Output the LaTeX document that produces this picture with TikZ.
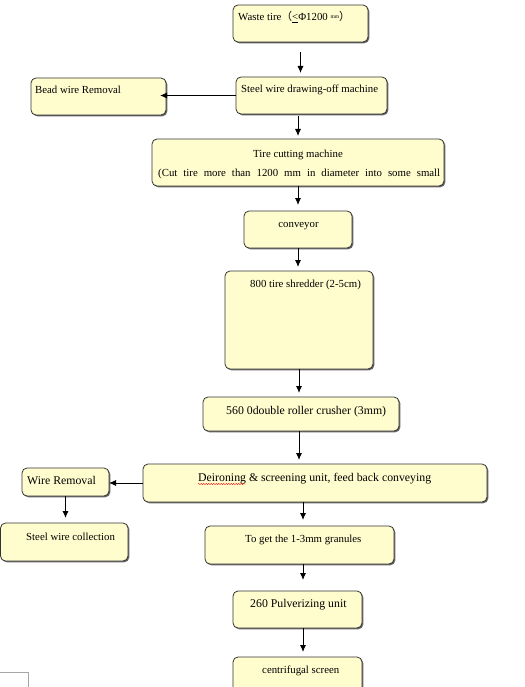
\documentclass[tikz,border=0pt]{standalone}
\usepackage{fontspec}
\setmainfont{Liberation Serif}
\newfontfamily\cjk{Noto Sans CJK SC}
\usetikzlibrary{calc,shadows,arrows.meta,decorations.pathmorphing}
\definecolor{boxfill}{RGB}{255,252,206}

\begin{document}
\begin{tikzpicture}[x=1pt, y=-1pt, >={Latex[length=7pt,width=6pt]}]
	% Styles
	\tikzstyle{stagebox}=[draw=black!80, fill=boxfill, rectangle, rounded corners=5pt, line width=0.8pt, inner sep=0pt, outer sep=0pt, drop shadow={shadow xshift=1.3pt, shadow yshift=-1.3pt, fill=black!60, opacity=1}]
	\tikzstyle{arrow}=[->, line width=0.9pt]
	\tikzstyle{lbl}=[font={\fontsize{10.8}{13}\selectfont}, inner sep=0pt, anchor=base west]
	\tikzstyle{biglbl}=[lbl, font={\fontsize{11.8}{14}\selectfont}]

	\useasboundingbox (0,0) rectangle (524,687);
	\clip (0,0) rectangle (524,687);

	% Stages
	\node[stagebox, minimum width=135pt, minimum height=37pt] (waste) at (300.5,23.5) {};
	\node[stagebox, minimum width=151pt, minimum height=37pt] (steel) at (311.5,95.5) {};
	\node[stagebox, minimum width=135pt, minimum height=37pt] (bead) at (98.5,96.5) {};
	\node[stagebox, minimum width=292pt, minimum height=47pt] (cutting) at (298,162.5) {};
	\node[stagebox, minimum width=108pt, minimum height=37pt] (conveyor) at (298,229.5) {};
	\node[stagebox, minimum width=148pt, minimum height=98pt] (shredder) at (299,320) {};
	\node[stagebox, minimum width=196pt, minimum height=34pt] (crusher) at (301,414) {};
	\node[stagebox, minimum width=344pt, minimum height=38pt] (deiron) at (315,483) {};
	\node[stagebox, minimum width=87pt, minimum height=28pt] (wire) at (65.5,482) {};
	\node[stagebox, minimum width=127.5pt, minimum height=38pt] (coll) at (64.25,542) {};
	\node[stagebox, minimum width=189pt, minimum height=38pt] (granules) at (299.5,545) {};
	\node[stagebox, minimum width=129pt, minimum height=37pt] (pulver) at (297.5,609.5) {};
	\node[stagebox, minimum width=129pt, minimum height=48pt] (screen) at (297.5,681) {};

	% Texts
	\node[lbl] (wasteLbl) at (238,21) {Waste tire{\cjk （}\underline{<}Φ1200 \raisebox{2pt}{\fontsize{5.5}{6}\selectfont mm}{\cjk ）}};
	\node[lbl] (steelLbl) at (241,93) {Steel wire drawing-off machine};
	\node[lbl] (beadLbl) at (35,94) {Bead wire Removal};
	\node[lbl, anchor=base] (cuttingLbl) at (298,157.5) {Tire cutting machine};
	\node[lbl] (cuttingLbl2) at (158,176.5) {\makebox[282pt][s]{(Cut tire more than 1200 mm in diameter into some small}};
	\node[lbl, anchor=base] (conveyorLbl) at (298.5,227) {conveyor};
	\node[lbl] (shredderLbl) at (250,287) {800 tire shredder (2-5cm)};
	\node[biglbl] (crusherLbl) at (226,414) {560 0double roller crusher (3mm)};
	\node[biglbl] (deironLbl) at (198,481.5) {Deironing \& screening unit, feed back conveying};
	\node[biglbl] (wireLbl) at (27,484) {Wire Removal};
	\node[lbl] (collLbl) at (26,540) {Steel wire collection};
	\node[lbl] (granulesLbl) at (245,542) {To get the 1-3mm granules};
	\node[biglbl] (pulverLbl) at (250,607) {260 Pulverizing unit};
	\node[lbl] (screenLbl) at (262,673) {centrifugal screen};

	% spell check mark
	\draw[red, decorate, decoration={snake, amplitude=0.6pt, segment length=2.5pt}] ($(deironLbl.base west)+(0,2.5)$) -- ($(deironLbl.base west)+(47,2.5)$);

	% Arrows
	\coordinate (mainline) at (303,0);
	\draw[arrow, shorten <=10pt, shorten >=4pt] (waste.south) -- (waste.south |- steel.north);
	\draw[arrow, shorten <=2pt, shorten >=3pt] (cutting.north |- steel.south) -- (cutting.north);
	\draw[arrow, shorten >=6pt] (cutting.south) -- (cutting.south |- conveyor.north);
	\draw[arrow, shorten >=4pt] (conveyor.south) -- (conveyor.south |- shredder.north);
	\draw[arrow, shorten >=4pt] (shredder.south) -- (shredder.south |- crusher.north);
	\draw[arrow, shorten >=4pt] (shredder.south |- crusher.south) -- (shredder.south |- deiron.north);
	\draw[arrow, shorten >=6pt] (deiron.south -| mainline) -- (granules.north -| mainline);
	\draw[arrow, shorten >=11pt] (granules.south -| mainline) -- (pulver.north -| mainline);
	\draw[arrow, shorten >=5pt] (pulver.south -| mainline) -- (screen.north -| mainline);

	% Side branches
	\draw[arrow, shorten >=-6pt] (steel.west) -- (steel.west -| bead.east);
	\draw[arrow] (deiron.west) -- (deiron.west -| wire.east);
	\draw[arrow, shorten >=5pt] (wire.south) -- (wire.south |- coll.north);

	% page corner mark
	\draw[black!35, line width=0.6pt] (0,672) -- (28,672) -- (28,687);
\end{tikzpicture}
\end{document}
